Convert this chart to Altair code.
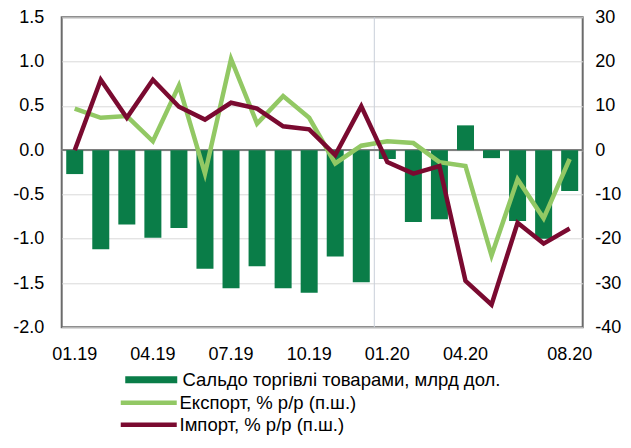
import altair as alt
import pandas as pd

months = ["01.19", "02.19", "03.19", "04.19", "05.19", "06.19", "07.19", "08.19",
          "09.19", "10.19", "11.19", "12.19", "01.20", "02.20", "03.20", "04.20",
          "05.20", "06.20", "07.20", "08.20"]
label_months = ["01.19", "04.19", "07.19", "10.19", "01.20", "04.20", "08.20"]
balance = [-0.27, -1.12, -0.84, -0.99, -0.88, -1.34, -1.56, -1.31, -1.56, -1.61,
           -1.20, -1.49, -0.10, -0.81, -0.78, 0.28, -0.09, -0.80, -1.00, -0.46]
export = [9.4, 7.3, 7.7, 2.0, 14.6, -5.3, 20.6, 6.0, 12.2, 7.3,
          -3.0, 1.0, 2.0, 1.6, -2.7, -3.6, -23.8, -6.6, -15.4, -2.0]
imports = [0.0, 15.9, 7.3, 15.9, 9.8, 6.9, 10.7, 9.4, 5.4, 4.7,
           -1.1, 9.9, -2.7, -5.3, -3.6, -29.5, -34.9, -16.4, -21.1, -17.7]
left_ticks = [-2.0, -1.5, -1.0, -0.5, 0.0, 0.5, 1.0, 1.5]
right_ticks = [-40, -30, -20, -10, 0, 10, 20, 30]
year_break = ["01.20"]

bar_name = "Сальдо торгівлі товарами, млрд дол."
exp_name = "Експорт, % р/р (п.ш.)"
imp_name = "Імпорт, % р/р (п.ш.)"

FONT = "Liberation Sans"
FS = 18
LFS = 18.5

bar_df = pd.DataFrame({"month": months, "balance": balance, "series": bar_name})
line_df = pd.concat([
    pd.DataFrame({"month": months, "value": export, "series": exp_name}),
    pd.DataFrame({"month": months, "value": imports, "series": imp_name}),
])
break_df = pd.DataFrame({"month": year_break})

xscale = alt.Scale(domain=months, paddingInner=0, paddingOuter=0)
xaxis = alt.Axis(values=label_months, title=None, labelAngle=0, labelPadding=18)
yscale_left = alt.Scale(domain=[-2, 1.5], nice=False, zero=False)

vrule = alt.Chart(break_df).mark_rule(color="#c8cfd9", strokeWidth=1).encode(
    x=alt.X("month:N", scale=xscale, axis=xaxis, bandPosition=0)
)

zero = alt.Chart(bar_df).mark_rule(color="#7f7f7f", strokeWidth=1.5).encode(
    y=alt.YDatum(0, scale=yscale_left, axis=alt.Axis(title=None))
)

bars = alt.Chart(bar_df).mark_bar(size=17).encode(
    x=alt.X("month:N", scale=xscale, axis=xaxis),
    y=alt.Y("balance:Q", scale=yscale_left,
            axis=alt.Axis(values=left_ticks, title=None, grid=True,
                          labelExpr="replace(format(datum.value, '.1f'), '\u2212', '-')",
                          labelPadding=18)),
    color=alt.Color("series:N", scale=alt.Scale(domain=[bar_name], range=["#0a7d48"]),
                    legend=alt.Legend(orient="none", legendX=80.3, legendY=353.2,
                                      title=None, padding=0,
                                      symbolType="M-4.333,-0.583L4.333,-0.583L4.333,0.583L-4.333,0.583Z",
                                      symbolSize=144, symbolStrokeWidth=0,
                                      labelOffset=22, labelFont=FONT, labelFontSize=LFS,
                                      labelColor="#000000", labelLimit=500)),
)

left = alt.layer(vrule, zero, bars)

lines = alt.Chart(line_df).mark_line(strokeWidth=4.5).encode(
    x=alt.X("month:N", scale=xscale, axis=xaxis),
    y=alt.Y("value:Q", scale=alt.Scale(domain=[-40, 30], nice=False, zero=False),
            axis=alt.Axis(orient="right", values=right_ticks, title=None, grid=False,
                          labelExpr="replace(format(datum.value, 'd'), '\u2212', '-')",
                          labelPadding=12)),
    stroke=alt.Stroke("series:N",
                      scale=alt.Scale(domain=[exp_name, imp_name], range=["#92c864", "#7a0a30"]),
                      legend=alt.Legend(orient="none", legendX=77.8, legendY=376.2,
                                        title=None, padding=0, rowPadding=3,
                                        symbolType="M-4.667,0L4.667,0",
                                        symbolSize=144, symbolStrokeWidth=4.5,
                                        labelOffset=21.5, labelFont=FONT, labelFontSize=LFS,
                                        labelColor="#000000", labelLimit=500)),
    detail="series:N",
)

chart = alt.layer(left, lines).resolve_scale(y="independent").properties(
    width=521, height=310,
    padding={"left": 53.7, "top": 9.3, "right": 40.3, "bottom": 112.7},
    autosize=alt.AutoSizeParams(type="none"),
).configure_view(
    stroke="#6b6b6b", strokeWidth=2
).configure_axis(
    domain=False, ticks=False, tickSize=0,
    labelFont=FONT, labelFontSize=FS, labelColor="#000000",
    gridColor="#d9d9d9", gridWidth=1,
).configure_axisX(grid=False)

chart.save("out.html", embed_options={"renderer": "svg", "actions": False})
